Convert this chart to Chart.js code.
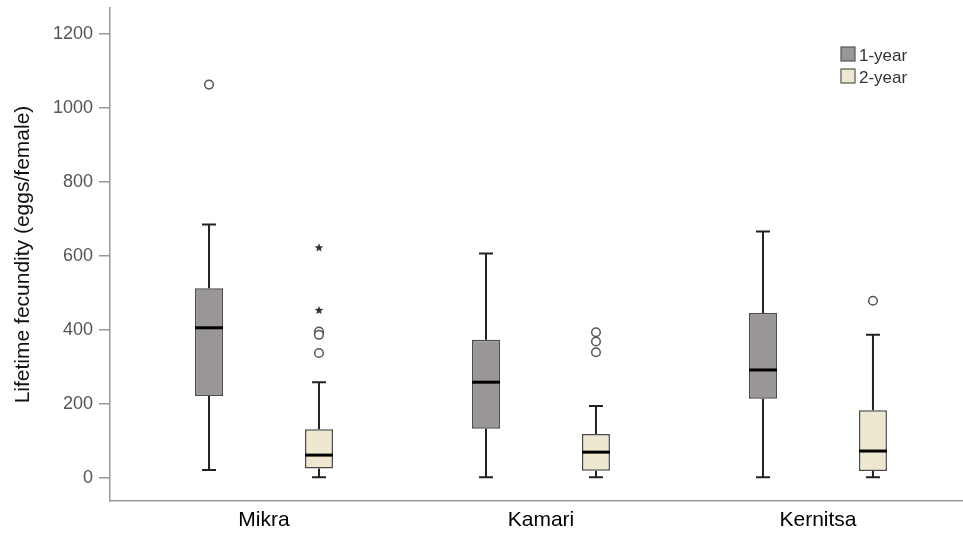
<!DOCTYPE html>
<html>
<head>
<meta charset="utf-8">
<script src="https://cdn.jsdelivr.net/npm/chart.js@4.4.1/dist/chart.umd.min.js"></script>
<style>
  html, body { margin: 0; padding: 0; background: #ffffff; }
  #wrap { width: 963px; height: 534px; position: relative; }
</style>
</head>
<body>
<div id="wrap"><canvas id="c" width="963" height="534"></canvas></div>
<script>
// ---- data ----
const categories = ['Mikra', 'Kamari', 'Kernitsa'];
const seriesNames = ['1-year', '2-year'];
const yTicks = [0, 200, 400, 600, 800, 1000, 1200];

const oneYearMin    = [22, 2, 2];
const oneYearQ1     = [222, 133, 214];
const oneYearMedian = [406, 259, 292];
const oneYearQ3     = [513, 374, 446];
const oneYearMax    = [685, 607, 666];
const oneYearOutliers = [[1063], [], []];
const oneYearExtremes = [[], [], []];

const twoYearMin    = [2, 2, 2];
const twoYearQ1     = [26, 20, 19];
const twoYearMedian = [62, 70, 73];
const twoYearQ3     = [132, 119, 183];
const twoYearMax    = [259, 195, 387];
const twoYearOutliers = [[396, 387, 338], [394, 369, 340], [479]];
const twoYearExtremes = [[622, 453], [], []];

// ---- build library structures ----
const stats = [
  { min: oneYearMin, med: oneYearMedian, max: oneYearMax, out: oneYearOutliers, ext: oneYearExtremes },
  { min: twoYearMin, med: twoYearMedian, max: twoYearMax, out: twoYearOutliers, ext: twoYearExtremes }
];
const boxes1 = categories.map((c, i) => ({ x: i, y: [oneYearQ1[i], oneYearQ3[i]] }));
const boxes2 = categories.map((c, i) => ({ x: i, y: [twoYearQ1[i], twoYearQ3[i]] }));

const FONT = "'Liberation Sans', Arial, sans-serif";

function drawStar(ctx, x, y, r) {
  ctx.beginPath();
  for (let k = 0; k < 10; k++) {
    const rad = k % 2 === 0 ? r : r * 0.45;
    const a = -Math.PI / 2 + k * Math.PI / 5;
    const px = x + rad * Math.cos(a), py = y + rad * Math.sin(a);
    if (k === 0) ctx.moveTo(px, py); else ctx.lineTo(px, py);
  }
  ctx.closePath();
  ctx.fill();
}

const boxPlugin = {
  id: 'boxParts',
  afterDatasetsDraw(chart) {
    const ctx = chart.ctx;
    const ys = chart.scales.y;
    ctx.save();
    stats.forEach((s, d) => {
      const meta = chart.getDatasetMeta(d);
      meta.data.forEach((bar, i) => {
        const x = bar.x, w = bar.width;
        const yMin = ys.getPixelForValue(s.min[i]);
        const yMax = ys.getPixelForValue(s.max[i]);
        const yMed = ys.getPixelForValue(s.med[i]);
        const props = bar.getProps(['y', 'base'], true);
        const top = Math.min(props.y, props.base), bottom = Math.max(props.y, props.base);
        const cap = w * 0.5;
        ctx.strokeStyle = '#222';
        ctx.lineWidth = 2;
        ctx.beginPath();
        ctx.moveTo(x, top); ctx.lineTo(x, yMax);
        ctx.moveTo(x - cap / 2, yMax); ctx.lineTo(x + cap / 2, yMax);
        ctx.moveTo(x, bottom); ctx.lineTo(x, yMin);
        ctx.moveTo(x - cap / 2, yMin); ctx.lineTo(x + cap / 2, yMin);
        ctx.stroke();
        // median
        ctx.strokeStyle = '#000';
        ctx.lineWidth = 3;
        ctx.beginPath();
        ctx.moveTo(x - w / 2, yMed); ctx.lineTo(x + w / 2, yMed);
        ctx.stroke();
        // outliers
        ctx.lineWidth = 1.5;
        ctx.strokeStyle = '#555';
        ctx.fillStyle = '#fff';
        s.out[i].forEach(v => {
          const py = ys.getPixelForValue(v);
          ctx.beginPath();
          ctx.arc(x, py, 4.3, 0, Math.PI * 2);
          ctx.fill();
          ctx.stroke();
        });
        ctx.fillStyle = '#333';
        s.ext[i].forEach(v => {
          drawStar(ctx, x, ys.getPixelForValue(v), 4.5);
        });
      });
    });
    // legend
    ctx.font = '17px ' + FONT;
    ctx.textBaseline = 'alphabetic';
    ctx.textAlign = 'left';
    chart.data.datasets.forEach((ds, d) => {
      const bx = 841, by = 47 + d * 22;
      ctx.fillStyle = ds.backgroundColor;
      ctx.fillRect(bx, by, 14, 14);
      ctx.strokeStyle = '#555';
      ctx.lineWidth = 1.2;
      ctx.strokeRect(bx, by, 14, 14);
      ctx.fillStyle = '#333';
      ctx.fillText(ds.label, 859, by + 14);
    });
    ctx.restore();
  }
};

new Chart(document.getElementById('c'), {
  type: 'bar',
  data: {
    datasets: [
      { label: seriesNames[0], data: boxes1, backgroundColor: '#9a9596', borderColor: '#4a4a4a', borderWidth: 1.5, borderSkipped: false },
      { label: seriesNames[1], data: boxes2, backgroundColor: '#efe8d1', borderColor: '#4a4a4a', borderWidth: 1.5, borderSkipped: false }
    ]
  },
  options: {
    responsive: false,
    animation: false,
    devicePixelRatio: 1,
    categoryPercentage: 0.794,
    barPercentage: 0.2545,
    layout: { padding: { top: 8, right: 1, left: 0, bottom: 0 } },
    plugins: { legend: { display: false }, tooltip: { enabled: false } },
    scales: {
      x: {
        type: 'linear',
        offset: false,
        min: -0.556,
        max: 2.52,
        afterBuildTicks: (scale) => { scale.ticks = categories.map((c, i) => ({ value: i })); },
        afterFit: (scale) => { scale.height = 33; scale.paddingLeft = 0; scale.paddingRight = 0; },
        ticks: {
          callback: (v) => categories[v],
          font: { family: FONT, size: 21 },
          color: '#000',
          padding: 7,
          autoSkip: false,
          maxRotation: 0
        },
        grid: { display: false, drawTicks: false, offset: false },
        border: { display: true, color: '#999', width: 1.5 }
      },
      y: {
        min: -62,
        max: 1270,
        afterBuildTicks: (scale) => { scale.ticks = yTicks.map(v => ({ value: v })); },
        afterFit: (scale) => { scale.width = 110; scale.paddingTop = 0; scale.paddingBottom = 0; },
        ticks: {
          callback: (v) => String(v),
          font: { family: FONT, size: 18 },
          color: '#555',
          padding: 6
        },
        grid: { display: true, drawOnChartArea: false, drawTicks: true, tickLength: 11, color: '#999', lineWidth: 1.5 },
        border: { display: true, color: '#999', width: 1.5 },
        title: {
          display: true,
          text: 'Lifetime fecundity (eggs/female)',
          font: { family: FONT, size: 21 },
          color: '#111',
          padding: { top: 11, bottom: 0 }
        }
      }
    }
  },
  plugins: [boxPlugin]
});
</script>
</body>
</html>
